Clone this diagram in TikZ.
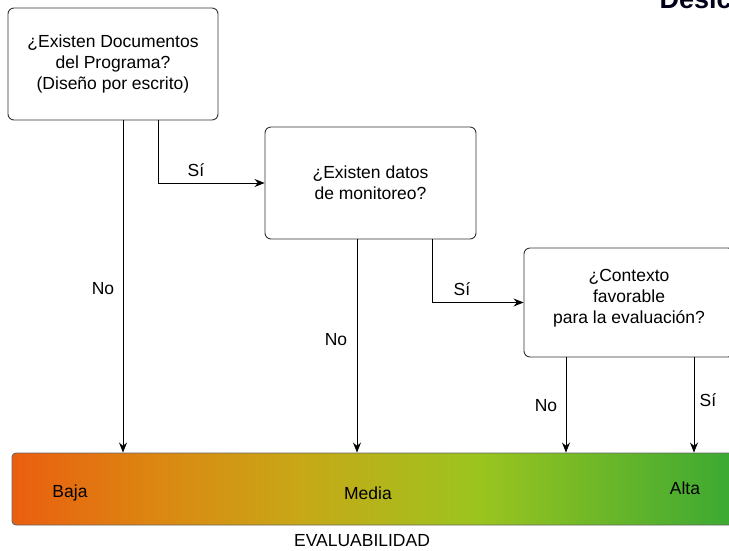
\documentclass[tikz,border=0pt]{standalone}
\usepackage{fontspec}
\setmainfont{Liberation Sans}
\usetikzlibrary{calc, arrows, positioning}
\usetikzlibrary{arrows.meta}

% colour ramp of the scale bar (the path covers 25bp..75bp)
\pgfdeclarehorizontalshading{escala}{100bp}{%
  rgb(0bp)=(0.92,0.37,0.06);
  rgb(25bp)=(0.92,0.37,0.06);
  rgb(35bp)=(0.86,0.53,0.07);
  rgb(45bp)=(0.78,0.66,0.09);
  rgb(57bp)=(0.61,0.77,0.12);
  rgb(75bp)=(0.22,0.66,0.20);
  rgb(100bp)=(0.22,0.66,0.20)}

\begin{document}
\begin{tikzpicture}[x=1pt,y=-1pt,
        font=\fontsize{17.5}{21}\selectfont,
        pregunta/.style={draw=black!80, line width=0.9pt, rounded corners=6pt, fill=white,
                         align=center, inner sep=0pt},
        flecha/.style={line width=0.9pt, -{Stealth[length=10pt,width=8pt]}}]
        \clip (0,0) rectangle (729,550);

        %\draw[help lines] (0,0) grid[step=50] (729,550);

        % questions
        \node [pregunta, minimum width=210, minimum height=112] (docs) at (113,64)
              {¿Existen Documentos\\del Programa?\\(Diseño por escrito)};
        \node [pregunta, minimum width=211, minimum height=112] (datos) at (370.5,183)
              {¿Existen datos\\de monitoreo?};
        \node [pregunta, minimum width=210, minimum height=109] (contexto) at (629,302.5)
              {¿Contexto\\favorable\\para la evaluación?\\[-8pt]};

        % scale
        \node [draw=black!60, line width=0.9pt, rounded corners=4pt, shading=escala,
               minimum width=728, minimum height=72, inner sep=0pt] (barra) at (376,489) {};
        \node [] (baja) at (70,493) {Baja};
        \node [] (media) at (368,493) {Media};
        \node [] (alta) at (685,488) {Alta};
        \node [] (titulo) at (362,541) {EVALUABILIDAD};

        % answers
        \draw [flecha] ([xshift=10]docs.south) -- ([xshift=10]docs.south |- barra.north);
        \draw [flecha] ([xshift=45]docs.south) |- (datos.west);
        \draw [flecha] ([xshift=-13.5]datos.south) -- ([xshift=-13.5]datos.south |- barra.north);
        \draw [flecha] ([xshift=61.5]datos.south) |- (contexto.west);
        \draw [flecha] ([xshift=-63]contexto.south) -- ([xshift=-63]contexto.south |- barra.north);
        \draw [flecha] ([xshift=65]contexto.south) -- ([xshift=65]contexto.south |- barra.north);

        \node [] (no1) at (103,289) {No};
        \node [] (si1) at (196,170) {Sí};
        \node [] (no2) at (336,340) {No};
        \node [] (si2) at (462,289) {Sí};
        \node [] (no3) at (546,406) {No};
        \node [] (si3) at (708,400) {Sí};

        \node [anchor=base west, font=\bfseries\fontsize{27}{27}\selectfont,
               text=black!90!blue] (corte) at (656,8) {Desic};
\end{tikzpicture}
\end{document}
